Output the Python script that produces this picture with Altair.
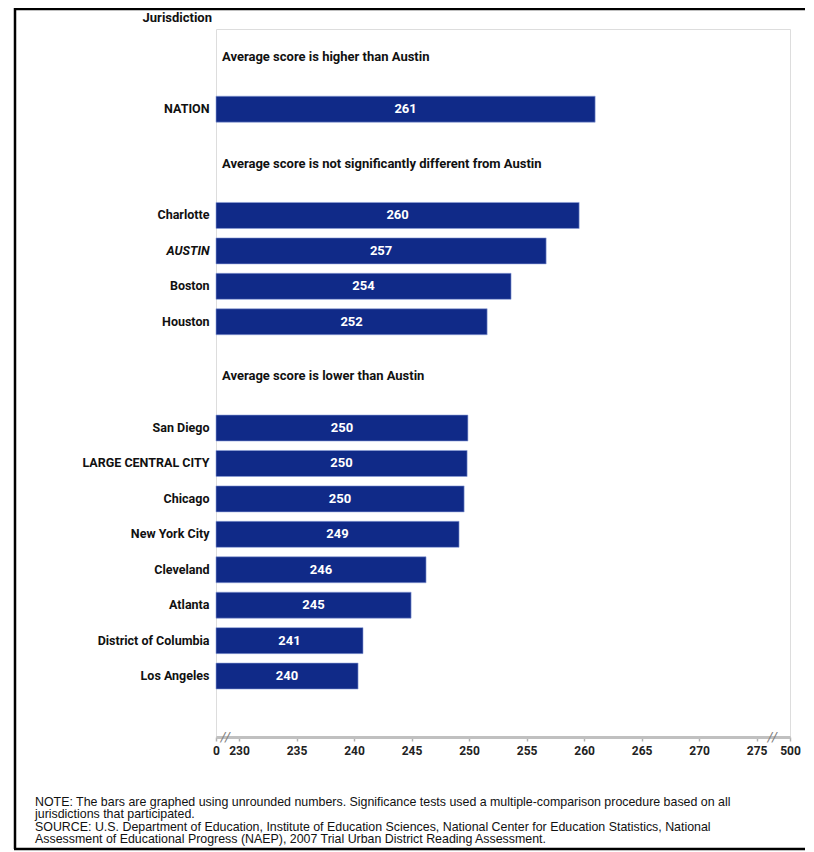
import altair as alt
import pandas as pd

# ---- data ----
names = ["NATION", "Charlotte", "AUSTIN", "Boston", "Houston", "San Diego",
         "LARGE CENTRAL CITY", "Chicago", "New York City", "Cleveland",
         "Atlanta", "District of Columbia", "Los Angeles"]
scores = [260.96, 259.57, 256.7, 253.65, 251.57, 249.9, 249.83, 249.57,
          249.13, 246.26, 244.96, 240.78, 240.35]

heading_keys = ["_h1", "_h2", "_h3"]
headings = ["Average score is higher than Austin",
            "Average score is not significantly different from Austin",
            "Average score is lower than Austin"]

row_order = ["_h1", "_s1", "NATION", "_h2", "_s2", "Charlotte", "AUSTIN",
             "Boston", "Houston", "_h3", "_s3", "San Diego",
             "LARGE CENTRAL CITY", "Chicago", "New York City", "Cleveland",
             "Atlanta", "District of Columbia", "Los Angeles", "_s4"]

x_min, x_max = 228.0, 277.9          # axis break ends, labelled "0" and "500"
tick_values = [x_min, 230, 235, 240, 245, 250, 255, 260, 265, 270, 275, x_max]
break_values = [228.8, 276.35]

footnote = ("NOTE: The bars are graphed using unrounded numbers. Significance tests used a multiple-comparison procedure based on all\n"
            "jurisdictions that participated.\n"
            "SOURCE: U.S. Department of Education, Institute of Education Sciences, National Center for Education Statistics, National\n"
            "Assessment of Educational Progress (NAEP), 2007 Trial Urban District Reading Assessment.")

COND = "Roboto, Liberation Sans Narrow, sans-serif"
NAVY = "#102a88"
W, H = 574, 708

bars_df = pd.DataFrame({"name": names, "score": scores})
head_df = pd.DataFrame({"name": heading_keys, "text": headings})
break_df = pd.DataFrame({"v": break_values})
one = pd.DataFrame({"t": [""]})

xscale = alt.Scale(domain=[x_min, x_max], nice=False, zero=False)
yscale = alt.Scale(domain=row_order, range=[-8.4, 700.2], paddingInner=0, paddingOuter=0)

x_axis = alt.Axis(values=tick_values, title=None, grid=False, labelOverlap=False,
                  labelFlush=False,
                  labelExpr=f"datum.value < {x_min + 1} ? '0' : (datum.value > {x_max - 1} ? '500' : datum.label)",
                  domainColor="#c0c0c0", domainWidth=3, tickColor="#b0b0b0",
                  tickSize=4, tickWidth=1.5, labelFont=COND, labelFontWeight="bold",
                  labelFontSize=12, labelColor="#222222", labelPadding=4)

y_axis = alt.Axis(title=None, grid=False, domain=False, ticks=False,
                  labelExpr="indexof(datum.value, '_') == 0 ? '' : datum.value",
                  labelFont=COND, labelFontWeight="bold", labelFontSize=12.5,
                  labelColor="#111111", labelPadding=7, labelLimit=300,
                  labelFontStyle=alt.condition("datum.value == 'AUSTIN'",
                                               alt.value("italic"), alt.value("normal")))

# outer black frame of the figure (its right side lies beyond the picture)
frame_left = alt.Chart(one).mark_rule(color="black", strokeWidth=2.5).encode(
    x=alt.value(-201), y=alt.value(-21), y2=alt.value(820))
frame_top = alt.Chart(one).mark_rule(color="black", strokeWidth=2.5).encode(
    x=alt.value(-202), x2=alt.value(589), y=alt.value(-20))
frame_bottom = alt.Chart(one).mark_rule(color="black", strokeWidth=2.5).encode(
    x=alt.value(-202), x2=alt.value(589), y=alt.value(820))

bars = alt.Chart(bars_df).transform_calculate(base=f"{x_min}").mark_bar(
    size=26, color=NAVY, stroke="#8da0d8", strokeWidth=0.6).encode(
    x=alt.X("score:Q", scale=xscale, axis=x_axis),
    x2="base:Q",
    y=alt.Y("name:N", scale=yscale, axis=y_axis, sort=row_order),
)

bar_labels = alt.Chart(bars_df).transform_calculate(
    mid=f"({x_min} + datum.score) / 2").mark_text(
    color="white", font=COND, fontWeight="bold", fontSize=13).encode(
    x=alt.X("mid:Q", scale=xscale),
    y=alt.Y("name:N", scale=yscale, sort=row_order),
    text=alt.Text("score:Q", format=".0f"))

head_text = alt.Chart(head_df).mark_text(
    align="left", dy=19, font=COND, fontWeight="bold", fontSize=13,
    color="#111111").encode(
    x=alt.value(6),
    y=alt.Y("name:N", scale=yscale, sort=row_order),
    text="text:N")

breaks = alt.Chart(break_df).mark_text(
    text="//", font="DejaVu Sans", fontSize=13, color="#808080",
    fontStyle="italic", baseline="middle").encode(
    x=alt.X("v:Q", scale=xscale),
    y=alt.value(H))

juris = alt.Chart(one).mark_text(
    text="Jurisdiction", align="right", baseline="middle", font=COND,
    fontWeight="bold", fontSize=13, color="#111111").encode(
    x=alt.value(-4), y=alt.value(-11))

note = alt.Chart(one).mark_text(
    text=footnote, lineBreak="\n", align="left", baseline="top",
    font="Liberation Sans, Arial, sans-serif", fontSize=12.4, lineHeight=12.4,
    color="#111111").encode(
    x=alt.value(-181), y=alt.value(767))

chart = alt.layer(frame_left, frame_top, frame_bottom, bars, bar_labels,
                  head_text, breaks, juris, note).properties(
    width=W, height=H,
    autosize=alt.AutoSizeParams(type="none"),
    padding={"left": 208, "top": 21, "right": 16, "bottom": 115},
).configure_view(stroke="#c0c0c0", strokeWidth=3).configure(background="white")

chart.save("out.html", embed_options={"renderer": "svg", "actions": False})
